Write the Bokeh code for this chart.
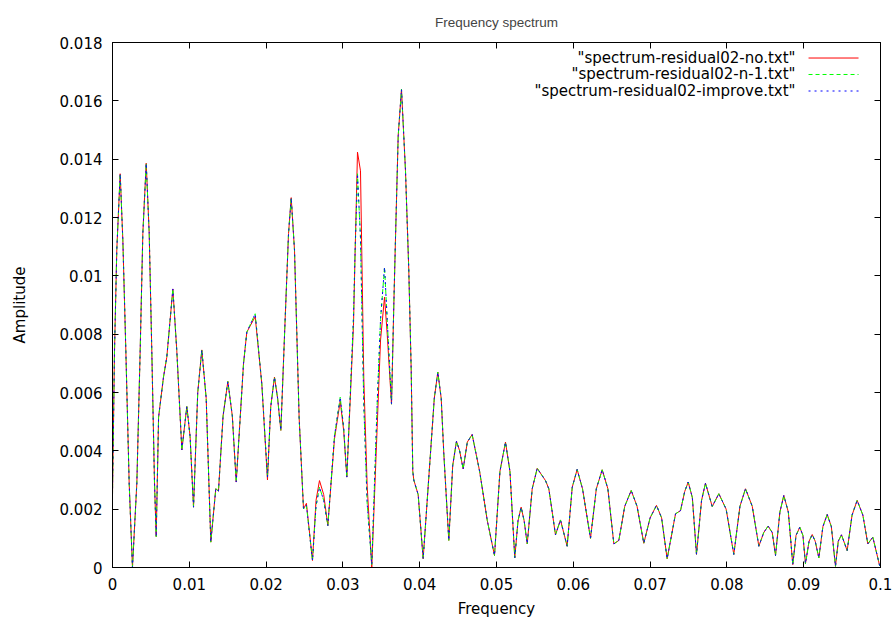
from bokeh.plotting import figure
from bokeh.models import FixedTicker, LinearAxis, Range1d, Label, CustomJSTickFormatter
from bokeh.embed import file_html
from bokeh.resources import INLINE

# ---------------- data ----------------
freq = [0.0, 0.00026, 0.00056, 0.0010, 0.00135, 0.00174, 0.00217, 0.0026, 0.00317, 0.0036,
        0.00395, 0.00439, 0.00478, 0.00512, 0.00547, 0.00569, 0.0060, 0.00664, 0.00707, 0.00786,
        0.00837, 0.00903, 0.00968, 0.0101, 0.01055, 0.0111, 0.01163, 0.0122, 0.0128, 0.01345,
        0.0138, 0.0144, 0.01502, 0.0156, 0.01611, 0.01706, 0.01749, 0.01858, 0.01944, 0.02018,
        0.0206, 0.02109, 0.0215, 0.02192, 0.02249, 0.02292, 0.02327, 0.0237, 0.0240, 0.0243,
        0.02487, 0.02525, 0.02604, 0.0265, 0.02695, 0.0275, 0.02804, 0.0289, 0.02965, 0.0301,
        0.03051, 0.03138, 0.03159, 0.0319, 0.03229, 0.03272, 0.03316, 0.03376, 0.03446, 0.0349,
        0.03542, 0.03577, 0.03633, 0.03663, 0.03685, 0.0372, 0.03763, 0.03815, 0.03858, 0.03889,
        0.0391, 0.03923, 0.0398, 0.04045, 0.0414, 0.0419, 0.04236, 0.0428, 0.04314, 0.04379,
        0.0443, 0.04479, 0.0452, 0.04566, 0.0462, 0.04683, 0.0478, 0.0488, 0.04974, 0.05045,
        0.05117, 0.05175, 0.05238, 0.0528, 0.05321, 0.0536, 0.0540, 0.05465, 0.0553, 0.05638,
        0.05681, 0.0572, 0.05768, 0.05833, 0.0592, 0.05986, 0.0605, 0.0612, 0.06224, 0.063,
        0.06376, 0.0645, 0.06528, 0.06593, 0.0667, 0.06754, 0.0683, 0.06918, 0.0700, 0.07083,
        0.0715, 0.07222, 0.07331, 0.07396, 0.0745, 0.07496, 0.0755, 0.07604, 0.0767, 0.07721,
        0.07809, 0.07895, 0.0799, 0.0809, 0.0817, 0.08242, 0.0833, 0.08416, 0.0848, 0.08537,
        0.0859, 0.08633, 0.0869, 0.08741, 0.0880, 0.08858, 0.0890, 0.08949, 0.0899, 0.09023,
        0.0907, 0.09111, 0.0915, 0.09197, 0.0925, 0.09306, 0.0936, 0.09414, 0.0945, 0.09492,
        0.09566, 0.0963, 0.09696, 0.0977, 0.09835, 0.0990, 0.0999]

amp_improve = [0.0025, 0.0074, 0.0109, 0.0135, 0.0112, 0.0074, 0.0029, 0.0000, 0.0029, 0.0074,
               0.01145, 0.01386, 0.01145, 0.0074, 0.0029, 0.00106, 0.00515, 0.00653, 0.00721, 0.00955,
               0.00744, 0.00403, 0.00552, 0.0045, 0.00207, 0.0060, 0.00746, 0.0058, 0.00087, 0.0027,
               0.00262, 0.0052, 0.00638, 0.0052, 0.00293, 0.00699, 0.00807, 0.0087, 0.0063, 0.0031,
               0.0055, 0.00653, 0.0058, 0.0047, 0.00858, 0.01145, 0.01268, 0.01087, 0.00802, 0.00515,
               0.00201, 0.00213, 0.00024, 0.0021, 0.00275, 0.0023, 0.00144, 0.0045, 0.00584, 0.0048,
               0.0031, 0.00858, 0.01087, 0.0135, 0.0113, 0.0056, 0.0022, 0.0001, 0.0056, 0.0085,
               0.0103, 0.0085, 0.0056, 0.0090, 0.0113, 0.0148, 0.0164, 0.0136, 0.0102, 0.0068,
               0.0033, 0.0030, 0.0025, 0.0003, 0.0039, 0.0058, 0.0067, 0.0058, 0.0039, 0.00093,
               0.0035, 0.00433, 0.0040, 0.00338, 0.0043, 0.00456, 0.0033, 0.00161, 0.00041, 0.0033,
               0.0043, 0.0033, 0.00033, 0.0016, 0.00207, 0.0016, 0.00081, 0.0027, 0.0034, 0.00298,
               0.0027, 0.0020, 0.00112, 0.00163, 0.00073, 0.00275, 0.00336, 0.0027, 0.0010, 0.0027,
               0.00335, 0.0027, 0.00081, 0.00093, 0.0021, 0.00264, 0.0021, 0.00083, 0.0017, 0.00213,
               0.0017, 0.0003, 0.00184, 0.00195, 0.0026, 0.00293, 0.0024, 0.00045, 0.0023, 0.00289,
               0.00209, 0.00253, 0.0020, 0.00045, 0.0021, 0.0027, 0.0021, 0.00073, 0.0012, 0.00142,
               0.0012, 0.00041, 0.0019, 0.00247, 0.0019, 0.0001, 0.0011, 0.00138, 0.0011, 0.00013,
               0.0009, 0.00113, 0.0009, 0.00033, 0.0014, 0.00182, 0.0014, 0.00004, 0.0009, 0.00112,
               0.00058, 0.0018, 0.0023, 0.0018, 0.00081, 0.00104, 0.00005]

# the "n-1" curve lies exactly on the "improve" curve in the picture
amp_n1 = list(amp_improve)

amp_no = [0.0025, 0.0074, 0.0109, 0.0135, 0.0112, 0.0074, 0.0029, 0.0000, 0.0029, 0.0074,
          0.01145, 0.01386, 0.01145, 0.0074, 0.0029, 0.00106, 0.00515, 0.00653, 0.00721, 0.00955,
          0.00744, 0.00403, 0.00552, 0.0045, 0.00207, 0.0060, 0.00746, 0.0058, 0.00087, 0.0027,
          0.00262, 0.0052, 0.00638, 0.0052, 0.00293, 0.00699, 0.00807, 0.0086, 0.0063, 0.0030,
          0.0055, 0.00653, 0.0058, 0.0047, 0.00858, 0.01145, 0.01268, 0.01087, 0.00802, 0.00515,
          0.00201, 0.0022, 0.00024, 0.0023, 0.00298, 0.0025, 0.00144, 0.0044, 0.0057, 0.0047,
          0.0031, 0.0083, 0.0108, 0.01424, 0.0136, 0.0065, 0.0028, 0.0000, 0.0048, 0.0078,
          0.00927, 0.0080, 0.0056, 0.0090, 0.0113, 0.0148, 0.0164, 0.0136, 0.0102, 0.0068,
          0.0033, 0.0030, 0.0025, 0.0003, 0.0039, 0.0058, 0.0067, 0.0058, 0.0039, 0.00093,
          0.0035, 0.00433, 0.0040, 0.00338, 0.0043, 0.00456, 0.0033, 0.00161, 0.00041, 0.0033,
          0.0043, 0.0033, 0.00033, 0.0016, 0.00207, 0.0016, 0.00081, 0.0027, 0.0034, 0.00298,
          0.0027, 0.0020, 0.00112, 0.00163, 0.00073, 0.00275, 0.00336, 0.0027, 0.0010, 0.0027,
          0.00335, 0.0027, 0.00081, 0.00093, 0.0021, 0.00264, 0.0021, 0.00083, 0.0017, 0.00213,
          0.0017, 0.0003, 0.00184, 0.00195, 0.0026, 0.00293, 0.0024, 0.00045, 0.0023, 0.00289,
          0.00209, 0.00253, 0.0020, 0.00045, 0.0021, 0.0027, 0.0021, 0.00073, 0.0012, 0.00142,
          0.0012, 0.00041, 0.0019, 0.00247, 0.0019, 0.0001, 0.0011, 0.00138, 0.0011, 0.00013,
          0.0009, 0.00113, 0.0009, 0.00033, 0.0014, 0.00182, 0.0014, 0.00004, 0.0009, 0.00112,
          0.00058, 0.0018, 0.0023, 0.0018, 0.00081, 0.00104, 0.00005]

series_names = ['"spectrum-residual02-no.txt"',
                '"spectrum-residual02-n-1.txt"',
                '"spectrum-residual02-improve.txt"']

x_ticks = [0.0, 0.01, 0.02, 0.03, 0.04, 0.05, 0.06, 0.07, 0.08, 0.09, 0.1]
x_tick_labels = ["0", "0.01", "0.02", "0.03", "0.04", "0.05", "0.06", "0.07", "0.08", "0.09", "0.1"]
y_ticks = [0.0, 0.002, 0.004, 0.006, 0.008, 0.01, 0.012, 0.014, 0.016, 0.018]
y_tick_labels = ["0", "0.002", "0.004", "0.006", "0.008", "0.01", "0.012", "0.014", "0.016", "0.018"]

# ---------------- styles ----------------
FONT = "DejaVu Sans"
TXT_FS = "15px"
colors = ["#ff0000", "#00ff00", "#0000ff"]
dashes = ["solid", "4 3", "2 4"]

p = figure(frame_width=768, frame_height=525,
           x_range=Range1d(0, 0.1), y_range=Range1d(0, 0.018),
           title="Frequency spectrum",
           output_backend="svg", toolbar_location=None,
           min_border_left=112, min_border_right=15, min_border_top=42, min_border_bottom=56)
p.title.align = "center"
p.title.text_font = "Liberation Sans"
p.title.text_font_size = "13.5px"
p.title.text_font_style = "normal"
p.title.standoff = 25
p.background_fill_color = "white"
p.border_fill_color = "white"
p.outline_line_color = "black"
p.outline_line_width = 1
p.xgrid.visible = False
p.ygrid.visible = False

xt = dict(zip(x_ticks, x_tick_labels))
yt = dict(zip(y_ticks, y_tick_labels))


def style_axis(ax, ticks, overrides, show_labels):
    ax.ticker = FixedTicker(ticks=ticks)
    ax.axis_line_color = "black"
    ax.major_tick_line_color = "black"
    ax.major_tick_in = 6
    ax.major_tick_out = 0
    ax.minor_tick_line_color = None
    ax.major_label_text_font = FONT
    ax.major_label_text_color = "black"
    ax.axis_label_text_font = FONT
    ax.axis_label_text_font_style = "normal"
    ax.axis_label_text_color = "black"
    if show_labels:
        ax.major_label_overrides = overrides
        ax.major_label_text_font_size = TXT_FS
        ax.axis_label_text_font_size = TXT_FS
    else:
        ax.formatter = CustomJSTickFormatter(code="return ''")
        ax.major_label_text_font_size = "1px"
        ax.major_label_standoff = 0


style_axis(p.xaxis[0], x_ticks, xt, True)
style_axis(p.yaxis[0], y_ticks, yt, True)
p.xaxis[0].axis_label = "Frequency"
p.yaxis[0].axis_label = "Amplitude"
p.xaxis[0].major_label_standoff = 10
p.xaxis[0].axis_label_standoff = 7
p.yaxis[0].major_label_standoff = 10
p.yaxis[0].axis_label_standoff = 28

top_ax = LinearAxis()
right_ax = LinearAxis()
style_axis(top_ax, x_ticks, xt, False)
style_axis(right_ax, y_ticks, yt, False)
p.add_layout(top_ax, "above")
p.add_layout(right_ax, "right")

amps = [amp_no, amp_n1, amp_improve]
for a, c, d in zip(amps, colors, dashes):
    p.line(freq, a, line_color=c, line_width=1, line_dash=d)

# ---------------- legend (gnuplot style: text, then line sample) ----------------
leg_text_x = 0.08893
leg_line_x0 = 0.09063
leg_line_x1 = 0.09714
leg_y = [0.017468, 0.016903, 0.016337]
for name, c, d, yy in zip(series_names, colors, dashes, leg_y):
    p.add_layout(Label(x=leg_text_x, y=yy, text=name, text_align="right", text_baseline="middle",
                       text_font=FONT, text_font_size=TXT_FS, text_color="black"))
    p.line([leg_line_x0, leg_line_x1], [yy, yy], line_color=c, line_width=1, line_dash=d)

open("out.html", "w").write(file_html(p, INLINE))
